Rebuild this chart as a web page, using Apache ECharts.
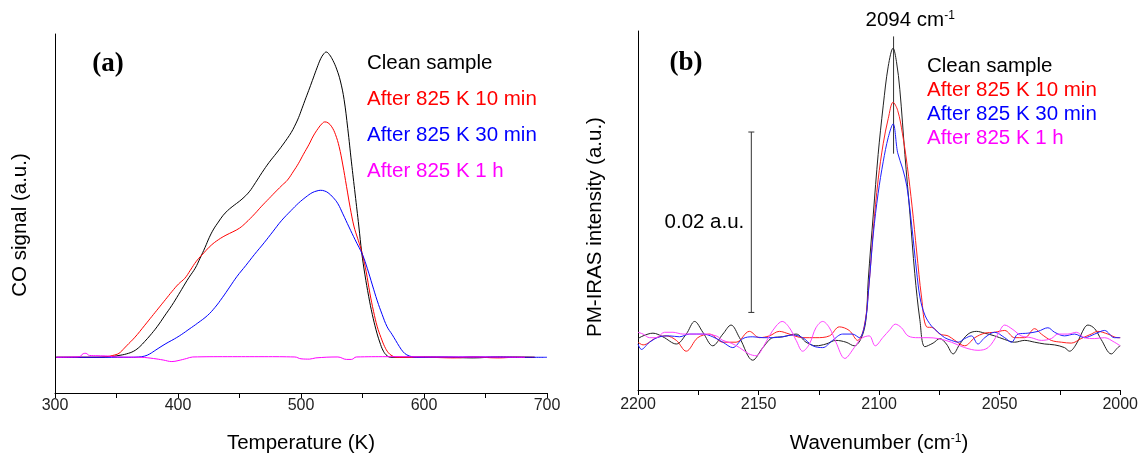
<!DOCTYPE html>
<html>
<head>
<meta charset="utf-8">
<script src="https://cdn.jsdelivr.net/npm/echarts@6/dist/echarts.min.js"></script>
<style>html,body{margin:0;padding:0;background:#fff}#c{width:1141px;height:459px}</style>
</head>
<body>
<div id="c"></div>
<script>
// ---------- DATA ----------
const seriesNames = ['Clean sample', 'After 825 K 10 min', 'After 825 K 30 min', 'After 825 K 1 h'];
const tempTicks = [300, 400, 500, 600, 700];
const waveTicks = [2200, 2150, 2100, 2050, 2000];

// Panel (a): CO TPD signal vs temperature (K), arbitrary units
const tpdClean = [[301,0],[330,0],[345,0.002],[352,0.006],[358,0.011],[364,0.02],[369,0.035],[373,0.052],[377,0.07],[383,0.1],[389,0.135],[395,0.17],[400.4,0.205],[405.6,0.24],[409,0.262],[414,0.292],[418,0.325],[422,0.36],[425.5,0.393],[429,0.42],[432.8,0.443],[436.5,0.464],[440.2,0.48],[444,0.493],[447.6,0.504],[452,0.518],[457.9,0.542],[463,0.572],[468.3,0.605],[474,0.638],[480.1,0.669],[485,0.695],[488.9,0.717],[492,0.736],[494.8,0.757],[498,0.785],[500.7,0.814],[504,0.85],[507,0.882],[510,0.915],[513,0.948],[516,0.978],[518.5,0.994],[520.5,1.0],[523,0.992],[526,0.972],[529,0.944],[532,0.905],[535,0.845],[538,0.75],[541,0.64],[544,0.535],[547,0.43],[549.4,0.342],[552,0.27],[555,0.2],[558,0.14],[561,0.09],[564,0.05],[567,0.02],[570,0.005],[573,0],[580,0],[600,0.001],[620,0],[640,-0.002],[660,0.001],[690,0]];
const tpd10min = [[301,0],[335,0],[342,0.002],[347,0.006],[352,0.013],[356.4,0.03],[360,0.045],[363,0.057],[367,0.075],[371,0.095],[375,0.115],[380,0.14],[385,0.165],[390,0.19],[395,0.215],[400.4,0.24],[405.6,0.259],[410,0.285],[415,0.315],[421,0.342],[427,0.367],[432.8,0.385],[439,0.4],[444.6,0.411],[450,0.423],[455,0.44],[462.4,0.47],[468,0.495],[474,0.52],[480,0.545],[485,0.565],[488.9,0.58],[494,0.61],[497.8,0.634],[502,0.665],[506.6,0.698],[510,0.725],[514,0.75],[517,0.765],[519.3,0.771],[522,0.768],[525,0.755],[528,0.73],[531,0.69],[534,0.63],[537,0.56],[540,0.49],[543,0.43],[546,0.39],[548,0.365],[550,0.336],[553,0.28],[556,0.21],[559,0.15],[562,0.1],[565,0.065],[568,0.035],[571,0.015],[574,0.005],[578,0],[600,0],[625,-0.002],[640,0.001],[660,-0.002],[675,0],[690,0]];
const tpd30min = [[301,0],[360,0],[368,0.001],[373,0.004],[377,0.011],[382,0.024],[387,0.037],[392,0.049],[397,0.06],[403,0.075],[409,0.092],[416,0.112],[424,0.137],[430,0.163],[436,0.195],[442,0.23],[448,0.265],[455,0.3],[462,0.336],[470,0.375],[477,0.411],[484,0.447],[492,0.481],[498,0.505],[504,0.525],[509,0.539],[513,0.545],[516,0.547],[519,0.545],[522,0.539],[526,0.524],[530,0.503],[534,0.47],[539,0.427],[544,0.385],[550,0.336],[554,0.29],[558,0.237],[562,0.185],[566,0.14],[570,0.1],[574,0.075],[577,0.055],[580,0.035],[583,0.018],[586,0.008],[590,0.002],[594,0],[620,0.001],[650,0.001],[680,0],[700,0]];
const tpd1h = [[301,0],[315,0.001],[320,0.002],[323,0.012],[325,0.013],[328,0.006],[335,0.005],[343,0.004],[350,0.001],[370,0],[380,-0.004],[388,-0.009],[395,-0.014],[400,-0.011],[407,-0.004],[412,0.001],[440,0.002],[470,0.002],[495,0.001],[500,-0.005],[507,-0.006],[512,-0.002],[530,0.001],[537,-0.007],[541,-0.007],[545,0.001],[570,0.002],[620,0.001],[650,0.001],[682,0]];

// Panel (b): PM-IRAS intensity (a.u.) vs wavenumber (cm-1)
const irasClean = [[2200,-0.0001],[2197.9,0.0002],[2193.8,0.0005],[2189.7,0.0001],[2184.1,-0.0007],[2180.0,0.0004],[2176.5,0.0018],[2173.1,0.0006],[2169.0,-0.0009],[2164.8,0.0004],[2161.4,0.0014],[2157.9,0.0000],[2152.4,-0.0025],[2148.2,-0.0011],[2144.1,0.0000],[2140.0,0.0001],[2134.4,0.0004],[2130.3,-0.0005],[2126.2,-0.0009],[2122.0,-0.0007],[2117.9,-0.0003],[2113.7,-0.0005],[2110.3,-0.0009],[2107.5,-0.0001],[2105.5,0.0019],[2104.5,0.0064],[2102.4,0.0137],[2100.4,0.0203],[2098.3,0.0257],[2096.2,0.0301],[2094.2,0.0321],[2092.8,0.0306],[2091.4,0.0275],[2089.3,0.0203],[2087.2,0.0137],[2085.2,0.0071],[2083.1,0.0020],[2081.0,-0.0010],[2077.6,-0.0006],[2074.8,-0.0001],[2072.1,-0.0007],[2069.3,-0.0018],[2066.5,-0.0007],[2063.1,0.0004],[2059.6,0.0007],[2056.2,0.0005],[2052.1,0.0002],[2047.9,-0.0002],[2043.8,-0.0005],[2039.6,-0.0003],[2035.5,-0.0005],[2031.3,-0.0007],[2027.2,-0.0008],[2023.1,-0.0011],[2021.0,-0.0015],[2018.2,-0.0007],[2014.8,0.0011],[2013.4,0.0014],[2010.6,0.0010],[2007.9,-0.0002],[2003.7,-0.0018],[2001.0,-0.0011],[2000,-0.0009]];
const iras10min = [[2200,-0.0005],[2197.9,-0.0008],[2192.4,0.0000],[2188.3,0.0002],[2184.1,-0.0003],[2180.0,-0.0015],[2175.2,0.0000],[2170.3,0.0004],[2164.8,-0.0005],[2159.3,-0.0005],[2153.8,0.0007],[2149.6,0.0000],[2145.5,0.0002],[2141.4,0.0007],[2137.2,0.0004],[2131.7,0.0000],[2126.2,0.0000],[2120.6,0.0002],[2116.5,0.0012],[2112.4,0.0008],[2108.9,-0.0003],[2106.2,0.0012],[2104.3,0.0055],[2102.4,0.012],[2100.4,0.0175],[2098.3,0.0215],[2096.2,0.0243],[2094.2,0.0261],[2092.3,0.0252],[2090.3,0.0226],[2088.3,0.019],[2086.3,0.0145],[2084.4,0.0095],[2082.4,0.0045],[2080.3,0.0012],[2077.6,0.0011],[2074.8,0.0004],[2071.4,0.0002],[2068.6,-0.0003],[2064.5,-0.0009],[2060.3,0.0000],[2056.2,0.0005],[2052.1,0.0006],[2047.9,0.0008],[2043.8,0.0000],[2039.6,0.0000],[2035.5,0.0010],[2032.7,0.0004],[2028.6,-0.0003],[2024.4,-0.0005],[2020.3,-0.0006],[2016.2,-0.0001],[2012.0,0.0004],[2009.3,0.0007],[2005.1,0.0004],[2001.0,0.0000],[2000,0.0000]];
const iras30min = [[2200,-0.0007],[2198.6,-0.0013],[2195.2,-0.0005],[2191.0,0.0001],[2186.9,0.0002],[2182.8,0.0001],[2178.6,0.0004],[2173.1,0.0004],[2169.0,0.0001],[2164.8,-0.0005],[2160.7,-0.0011],[2156.5,-0.0001],[2152.4,0.0001],[2148.2,0.0000],[2144.1,0.0000],[2140.0,0.0001],[2135.8,0.0003],[2131.7,0.0000],[2127.5,-0.0009],[2123.4,-0.0011],[2119.3,-0.0003],[2115.1,0.0004],[2111.0,0.0004],[2108.2,0.0000],[2105.7,0.0018],[2104.3,0.0055],[2102.4,0.0115],[2100.4,0.016],[2098.3,0.0195],[2096.2,0.0222],[2094.2,0.0237],[2092.3,0.0205],[2090.3,0.0188],[2088.5,0.0168],[2086.5,0.0125],[2084.5,0.0075],[2083.0,0.0044],[2081.0,0.0025],[2078.3,0.0013],[2075.5,0.0006],[2072.8,0.0000],[2070.0,-0.0003],[2067.2,-0.0005],[2064.5,-0.0001],[2061.7,0.0002],[2059.0,-0.0007],[2056.2,0.0000],[2052.1,0.0006],[2047.9,0.0000],[2045.1,-0.0005],[2042.4,0.0004],[2038.3,0.0005],[2034.1,0.0007],[2030.0,0.0011],[2027.2,0.0006],[2023.1,0.0002],[2018.9,0.0004],[2014.8,0.0000],[2010.6,0.0004],[2006.5,0.0008],[2002.4,0.0000],[2000,0.0000]];
const iras1h = [[2200,0.0006],[2197.9,0.0004],[2195.2,0.0000],[2192.4,0.0000],[2189.0,0.0006],[2185.5,0.0006],[2181.4,0.0004],[2177.2,0.0004],[2173.1,0.0004],[2167.6,0.0002],[2164.8,-0.0003],[2161.4,-0.0006],[2157.9,-0.0011],[2154.0,-0.0018],[2151.0,-0.0020],[2148.0,-0.0010],[2145.5,0.0002],[2142.7,0.0013],[2140.2,0.0018],[2137.2,0.0011],[2134.4,-0.0003],[2131.7,-0.0015],[2128.9,-0.0007],[2126.2,0.0011],[2123.4,0.0018],[2120.6,0.0011],[2117.9,-0.0005],[2114.2,-0.0023],[2110.3,-0.0011],[2107.5,-0.0001],[2104.1,0.0002],[2101.6,-0.0009],[2098.5,0.0000],[2095.5,0.0009],[2093.3,0.0015],[2090.7,0.0011],[2088.0,0.0002],[2083.8,0.0000],[2079.7,0.0000],[2075.5,-0.0001],[2070.0,-0.0005],[2064.5,-0.0011],[2059.0,-0.0014],[2054.8,-0.0011],[2050.7,0.0004],[2047.9,0.0014],[2044.5,0.0009],[2041.0,0.0002],[2036.9,0.0000],[2032.7,-0.0003],[2028.6,-0.0001],[2025.8,0.0004],[2021.7,0.0004],[2018.2,0.0006],[2014.8,0.0000],[2010.6,-0.0001],[2006.5,0.0000],[2002.4,-0.0005],[2000,-0.0009]];

// Annotations in panel (b)
const peakPosition = 2094;             // cm-1
const peakMarkRange = [0.0204, 0.0334]; // a.u.
const peakLabel = '2094 cm{sup|-1}';
const scaleBarPosition = 2153;          // cm-1
const scaleBarRange = [0.0028, 0.0228]; // 0.02 a.u.
const scaleBarLabel = '0.02 a.u.';

// ---------- CHART ----------
const FONT = '"Liberation Sans", Arial, sans-serif';
const colors = ['#000000', '#ff0000', '#0000ff', '#ff00ff'];
const colorsB = ['#222222', '#ff2020', '#2020ff', '#ff40ff'];

function xAxisBase(grid, ticks, tickStep, inverse, name, gap, margin) {
  const lo = Math.min.apply(null, ticks), hi = Math.max.apply(null, ticks);
  return {
    gridIndex: grid, type: 'value', min: lo, max: hi, interval: tickStep, inverse: inverse,
    axisLine: { onZero: false, lineStyle: { color: '#000', width: 1 } },
    axisTick: { show: true, length: 5, inside: false, lineStyle: { color: '#000', width: 1 } },
    splitLine: { show: false },
    axisLabel: { fontSize: 16, color: '#222', margin: margin, fontFamily: FONT,
      formatter: function (v) { return ticks.indexOf(v) >= 0 ? String(v) : ''; } },
    name: name, nameLocation: 'middle', nameGap: gap,
    nameTextStyle: { fontSize: 20.5, color: '#000', fontFamily: FONT,
      rich: { sup: { fontSize: 12, fontFamily: FONT, color: '#000', verticalAlign: 'top' } } }
  };
}
function yAxisBase(grid, min, max) {
  return {
    gridIndex: grid, type: 'value', min: min, max: max,
    axisLine: { show: true, onZero: false, lineStyle: { color: '#000', width: 1 } },
    axisTick: { show: false }, axisLabel: { show: false }, splitLine: { show: false }
  };
}
function lineSeries(name, data, xi, color, smooth) {
  return { name: name, type: 'line', xAxisIndex: xi, yAxisIndex: xi, data: data,
    showSymbol: false, symbol: 'none', smooth: smooth, silent: true,
    lineStyle: { color: color, width: 1 }, itemStyle: { color: color } };
}

const tpdSeries = [tpdClean, tpd10min, tpd30min, tpd1h];
const irasSeries = [irasClean, iras10min, iras30min, iras1h];

const series = [];
tpdSeries.forEach((d, i) => series.push(lineSeries(seriesNames[i], d, 0, colors[i], 0.4)));
irasSeries.forEach((d, i) => series.push(lineSeries(seriesNames[i], d, 1, colorsB[i], 0.35)));

// scale bar
series.push({
  type: 'custom', xAxisIndex: 1, yAxisIndex: 1, silent: true,
  data: [[scaleBarPosition, scaleBarRange[0], scaleBarRange[1]]],
  renderItem: function (params, api) {
    const p1 = api.coord([api.value(0), api.value(1)]);
    const p2 = api.coord([api.value(0), api.value(2)]);
    const st = { stroke: '#333', lineWidth: 1 };
    return { type: 'group', children: [
      { type: 'line', shape: { x1: p1[0], y1: p1[1], x2: p2[0], y2: p2[1] }, style: st },
      { type: 'line', shape: { x1: p1[0] - 3, y1: p1[1], x2: p1[0] + 3, y2: p1[1] }, style: st },
      { type: 'line', shape: { x1: p2[0] - 3, y1: p2[1], x2: p2[0] + 3, y2: p2[1] }, style: st },
      { type: 'text', x: p1[0] - 7, y: (p1[1] + p2[1]) / 2,
        style: { text: scaleBarLabel, align: 'right', verticalAlign: 'middle',
          fontSize: 20.5, fontFamily: FONT, fill: '#000' } }
    ] };
  }
});
// peak marker
series.push({
  type: 'custom', xAxisIndex: 1, yAxisIndex: 1, silent: true,
  data: [[peakPosition, peakMarkRange[0], peakMarkRange[1]]],
  renderItem: function (params, api) {
    const p1 = api.coord([api.value(0), api.value(1)]);
    const p2 = api.coord([api.value(0), api.value(2)]);
    return { type: 'group', children: [
      { type: 'line', shape: { x1: p1[0], y1: p1[1], x2: p2[0], y2: p2[1] }, style: { stroke: '#333', lineWidth: 1 } },
      { type: 'text', x: p2[0] - 28, y: p2[1] - 16,
        style: { text: peakLabel, align: 'left', verticalAlign: 'middle',
          fontSize: 20.5, fontFamily: FONT, fill: '#000',
          rich: { sup: { fontSize: 12, fontFamily: FONT, fill: '#000', verticalAlign: 'top' } } } }
    ] };
  }
});

function legendBase(left, top, gap) {
  return {
    orient: 'vertical', left: left, top: top, itemGap: gap, icon: 'none',
    itemWidth: 0, itemHeight: 20, selectedMode: false, padding: 0,
    textStyle: { fontSize: 20.5, fontFamily: FONT },
    data: seriesNames.map((n, i) => ({ name: n, textStyle: { color: colors[i] } }))
  };
}

const chart = echarts.init(document.getElementById('c'), null, { renderer: 'canvas' });
chart.setOption({
  animation: false,
  backgroundColor: '#fff',
  grid: [
    { left: 55, top: 34, width: 492, height: 365 },
    { left: 638, top: 31, width: 483, height: 364 }
  ],
  xAxis: [
    xAxisBase(0, tempTicks, 50, false, 'Temperature (K)', 40, 5),
    xAxisBase(1, waveTicks, 25, true, 'Wavenumber (cm{sup|-1})', 43, 7)
  ],
  yAxis: [ yAxisBase(0, -0.117, 1.059), yAxisBase(1, -0.0058, 0.0340) ],
  legend: [ legendBase(362, 53, 14.8), legendBase(922, 56, 3) ],
  graphic: [
    { type: 'text', x: 20, y: 225, rotation: Math.PI / 2,
      style: { text: 'CO signal (a.u.)', align: 'center', verticalAlign: 'middle', textAlign: 'center', textVerticalAlign: 'middle',
        fontSize: 20.5, fontFamily: FONT, fill: '#000' } },
    { type: 'text', x: 595, y: 227, rotation: Math.PI / 2,
      style: { text: 'PM-IRAS intensity (a.u.)', align: 'center', verticalAlign: 'middle', textAlign: 'center', textVerticalAlign: 'middle',
        fontSize: 20.5, fontFamily: FONT, fill: '#000' } },
    { type: 'text', x: 108, y: 64,
      style: { text: '(a)', align: 'center', verticalAlign: 'middle', textAlign: 'center', textVerticalAlign: 'middle',
        fontSize: 27, fontWeight: 'bold', fontFamily: '"Liberation Serif", "Times New Roman", serif', fill: '#000' } },
    { type: 'text', x: 686, y: 63,
      style: { text: '(b)', align: 'center', verticalAlign: 'middle', textAlign: 'center', textVerticalAlign: 'middle',
        fontSize: 27, fontWeight: 'bold', fontFamily: '"Liberation Serif", "Times New Roman", serif', fill: '#000' } }
  ],
  series: series
});
</script>
</body>
</html>
